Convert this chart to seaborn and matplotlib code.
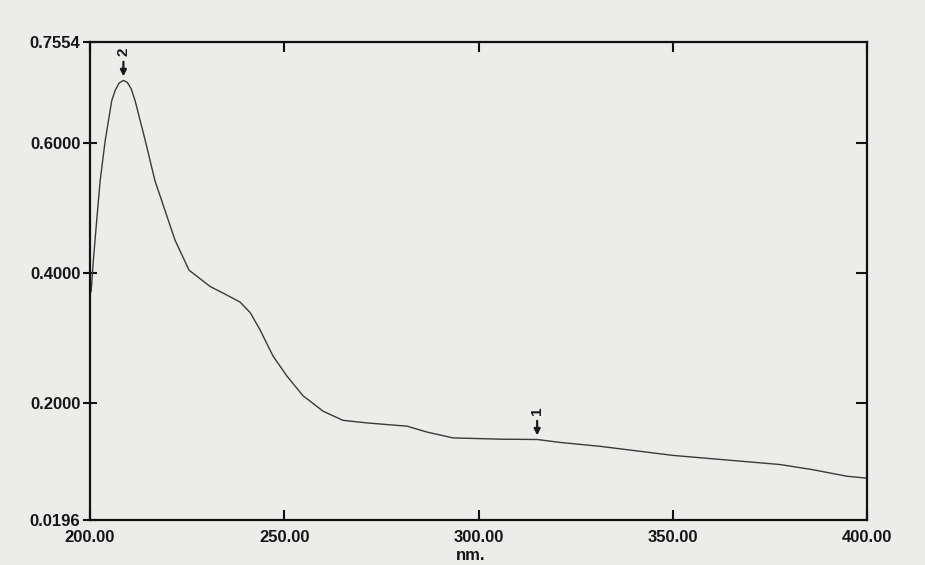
import matplotlib
matplotlib.use("Agg")
import matplotlib.pyplot as plt
import seaborn as sns
import pandas as pd

# Spectrum
wavelength = [200.0, 200.3, 200.85, 201.7, 202.6, 203.9, 205.6, 206.5, 207.5, 208.6,
              209.6, 210.6, 211.6, 214.2, 216.7, 219.3, 221.9, 225.5, 230.9, 234.5,
              238.6, 241.2, 243.7, 247.1, 250.7, 254.8, 260.0, 265.1, 271.3, 281.6,
              286.7, 293.4, 305.5, 315.1, 321.0, 331.3, 350.1, 377.6, 386.1, 394.8,
              400.0]
absorbance = [0.368, 0.372, 0.418, 0.479, 0.541, 0.603, 0.665, 0.681, 0.692, 0.696,
              0.693, 0.683, 0.665, 0.604, 0.542, 0.496, 0.450, 0.404, 0.379, 0.368,
              0.355, 0.339, 0.313, 0.272, 0.241, 0.211, 0.187, 0.173, 0.169, 0.164,
              0.155, 0.146, 0.144, 0.1435, 0.139, 0.133, 0.119, 0.105, 0.097, 0.087,
              0.084]

peak_labels = ["2", "1"]
peak_x = [208.6, 315.1]
peak_y = [0.696, 0.1435]

x_ticks = [200, 250, 300, 350, 400]
x_ticklabels = ["200.00", "250.00", "300.00", "350.00", "400.00"]
y_ticks = [0.0196, 0.2, 0.4, 0.6, 0.7554]
y_ticklabels = ["0.0196", "0.2000", "0.4000", "0.6000", "0.7554"]
x_label = "nm."

sns.set_theme(style="white")
plt.rcParams['font.family'] = ['Liberation Sans', 'DejaVu Sans']

df = pd.DataFrame({"nm": wavelength, "abs": absorbance})

fig = plt.figure(figsize=(9.25, 5.65), dpi=100)
bg = "#ececea"
fig.patch.set_facecolor(bg)
ax = fig.add_axes([0.0973, 0.0796, 0.8400, 0.8464])
ax.set_facecolor(bg)

sns.lineplot(data=df, x="nm", y="abs", ax=ax, color="#3a3a3a", linewidth=1.0)

ax.set_xlim(200, 400)
ax.set_ylim(0.0196, 0.7554)

for s in ax.spines.values():
    s.set_color("#111111")
    s.set_linewidth(1.6)

ax.set_xticks(x_ticks)
ax.set_xticklabels(x_ticklabels, fontsize=12, fontweight="bold", color="#151515")
ax.set_yticks(y_ticks)
ax.set_yticklabels(y_ticklabels, fontsize=12, fontweight="bold", color="#151515")
ax.tick_params(axis="x", direction="in", length=7, width=1.5, color="#111111",
               top=True, bottom=True, pad=7)
ax.tick_params(axis="y", direction="inout", length=10, width=1.5, color="#111111",
               left=True, right=False, pad=2)

# right-side inward ticks
ax2 = ax.twinx()
ax2.set_ylim(ax.get_ylim())
ax2.set_yticks([0.2, 0.4, 0.6])
ax2.set_yticklabels([])
ax2.tick_params(axis="y", direction="in", length=8, width=1.5, color="#111111")
ax2.grid(False)
for s in ax2.spines.values():
    s.set_visible(False)

ax.set_xlabel(x_label, fontsize=12, fontweight="bold", color="#151515", labelpad=1)
ax.xaxis.set_label_coords(0.49, -0.058)
ax.set_ylabel("")

# peak markers
for lab, px, py in zip(peak_labels, peak_x, peak_y):
    ax.annotate("", xy=(px, py + 0.002), xytext=(px, py + 0.033),
                arrowprops=dict(arrowstyle="-|>", color="#1a1a1a", lw=1.6,
                                mutation_scale=9))
    ax.text(px, py + 0.038, lab, rotation=90, ha="center", va="bottom",
            fontsize=11, fontweight="bold", color="#1a1a1a")

fig.savefig("out.png", dpi=100, facecolor=bg)
